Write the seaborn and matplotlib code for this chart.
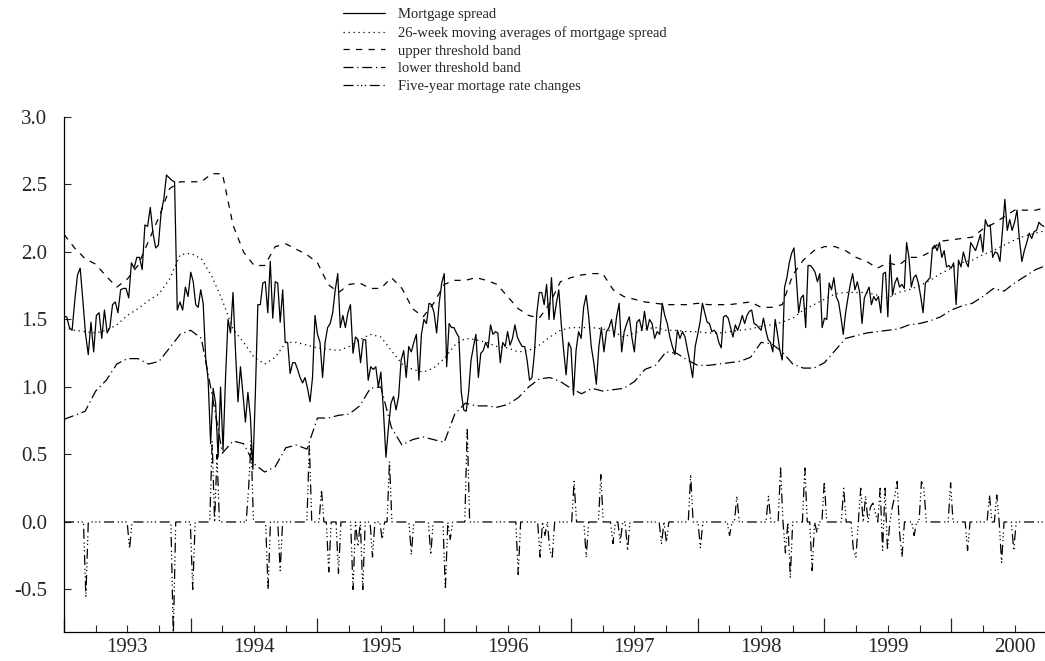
import numpy as np
import pandas as pd
import matplotlib
matplotlib.use("Agg")
import matplotlib.pyplot as plt
from matplotlib.ticker import FixedLocator, FuncFormatter, FormatStrFormatter
import seaborn as sns

# weekly mortgage spread, one list per calendar year
spread_1993 = [1.52, 1.52, 1.44, 1.42, 1.64, 1.83, 1.88, 1.64, 1.39, 1.24, 1.48, 1.26, 1.53, 1.55, 1.36,
               1.57, 1.40, 1.44, 1.61, 1.63, 1.55, 1.72, 1.73, 1.73, 1.66, 1.92, 1.88, 1.96, 1.96, 1.87,
               2.20, 2.19, 2.33, 2.14, 2.03, 2.05, 2.29, 2.39, 2.57, 2.55, 2.53, 2.52, 1.57, 1.63, 1.57,
               1.74, 1.67]
spread_1994 = [1.85, 1.78, 1.61, 1.59, 1.72, 1.62, 1.22, 1.05, 0.58, 0.99, 0.88, 0.48, 1.00, 0.53, 1.07,
               1.50, 1.40, 1.70, 1.27, 0.89, 1.15, 0.95, 0.74, 0.96, 0.78, 0.39, 0.95, 1.61, 1.61, 1.77,
               1.78, 1.55, 1.93, 1.51, 1.78, 1.77, 1.48, 1.72, 1.33, 1.33, 1.10, 1.18, 1.18, 1.13, 1.07,
               1.03, 1.07, 0.99, 0.89, 1.07, 1.53]
spread_1995 = [1.39, 1.33, 1.07, 1.33, 1.44, 1.47, 1.55, 1.72, 1.84, 1.44, 1.53, 1.44, 1.55, 1.61, 1.25,
               1.37, 1.35, 1.18, 1.35, 1.35, 1.05, 1.15, 1.13, 1.15, 1.00, 1.11, 0.83, 0.48, 0.70, 0.88,
               0.93, 0.83, 0.93, 1.20, 1.27, 1.07, 1.30, 1.26, 1.33, 1.39, 1.05, 1.39, 1.50, 1.47, 1.62,
               1.61, 1.55, 1.40, 1.62, 1.77]
spread_1996 = [1.84, 1.15, 1.47, 1.44, 1.44, 1.40, 1.37, 0.96, 0.83, 0.82, 0.96, 1.20, 1.30, 1.39, 1.07,
               1.25, 1.27, 1.33, 1.29, 1.46, 1.39, 1.41, 1.40, 1.18, 1.33, 1.30, 1.41, 1.31, 1.36, 1.46,
               1.37, 1.33, 1.30, 1.30, 1.20, 1.05, 1.07, 1.25, 1.55, 1.70, 1.70, 1.61, 1.76, 1.50, 1.81,
               1.50, 1.62, 1.72, 1.47, 1.27, 1.09, 1.33]
spread_1997 = [1.29, 0.94, 1.27, 1.41, 1.36, 1.59, 1.68, 1.52, 1.30, 1.18, 1.02, 1.30, 1.44, 1.26, 1.41,
               1.44, 1.50, 1.37, 1.52, 1.62, 1.26, 1.41, 1.47, 1.52, 1.37, 1.26, 1.48, 1.50, 1.42, 1.56,
               1.42, 1.50, 1.47, 1.36, 1.41, 1.39, 1.62, 1.53, 1.47, 1.37, 1.30, 1.24, 1.42, 1.36, 1.41,
               1.37, 1.27, 1.18, 1.07, 1.30]
spread_1998 = [1.39, 1.48, 1.62, 1.55, 1.48, 1.47, 1.41, 1.42, 1.40, 1.33, 1.29, 1.52, 1.53, 1.51, 1.44,
               1.37, 1.46, 1.42, 1.47, 1.53, 1.47, 1.53, 1.56, 1.57, 1.47, 1.46, 1.44, 1.42, 1.51, 1.42,
               1.35, 1.33, 1.26, 1.50, 1.39, 1.27, 1.20, 1.74, 1.81, 1.92, 1.99, 2.03, 1.81, 1.55, 1.66,
               1.68, 1.44, 1.90, 1.90, 1.88, 1.85, 1.78, 1.84, 1.44]
spread_1999 = [1.51, 1.50, 1.77, 1.72, 1.81, 1.67, 1.63, 1.52, 1.39, 1.55, 1.66, 1.76, 1.84, 1.72, 1.78,
               1.70, 1.47, 1.66, 1.70, 1.74, 1.61, 1.67, 1.64, 1.67, 1.55, 1.84, 1.85, 1.52, 1.98, 1.68,
               1.77, 1.81, 1.74, 1.76, 1.73, 2.07, 1.96, 1.74, 1.81, 1.83, 1.77, 1.67, 1.55, 1.77, 1.79,
               1.81, 2.03, 2.05, 2.01, 2.07, 1.96, 2.01, 1.89, 1.90]
spread_2000 = [1.88, 1.92, 1.61, 1.94, 1.89, 2.00, 1.93, 1.89, 2.07, 2.04, 2.01, 2.07, 2.13, 2.00, 2.24,
               2.19, 2.20, 1.96, 2.00, 1.99, 1.93, 2.15, 2.39, 2.16, 2.24, 2.16, 2.22, 2.31, 2.09, 1.93,
               2.01, 2.07, 2.14, 2.10, 2.15, 2.16, 2.22, 2.20, 2.19]

# monthly readings from Jan 1993 for the smooth series
ma26 = [1.44, 1.42, 1.41, 1.40, 1.42, 1.46, 1.53, 1.58, 1.64, 1.69, 1.80, 1.98,
        1.99, 1.95, 1.82, 1.64, 1.43, 1.33, 1.22, 1.17, 1.22, 1.33, 1.33, 1.31,
        1.29, 1.28, 1.27, 1.30, 1.35, 1.39, 1.37, 1.27, 1.17, 1.13, 1.11, 1.14,
        1.21, 1.31, 1.36, 1.35, 1.33, 1.30, 1.29, 1.26, 1.27, 1.31, 1.37, 1.42,
        1.44, 1.44, 1.44, 1.43, 1.41, 1.37, 1.40, 1.43, 1.44, 1.42, 1.42, 1.41,
        1.41, 1.40, 1.40, 1.41, 1.42, 1.43, 1.45, 1.46, 1.48, 1.51, 1.57, 1.61,
        1.65, 1.69, 1.70, 1.70, 1.70, 1.68, 1.66, 1.70, 1.72, 1.75, 1.79, 1.84,
        1.88, 1.92, 1.94, 1.98, 2.01, 2.05, 2.09, 2.12, 2.14, 2.16]
upper_band = [2.13, 2.03, 1.95, 1.91, 1.82, 1.74, 1.80, 1.90, 2.08, 2.26, 2.47, 2.52,
              2.52, 2.52, 2.58, 2.58, 2.20, 2.00, 1.90, 1.90, 2.04, 2.06, 2.02, 1.98,
              1.92, 1.76, 1.70, 1.76, 1.77, 1.73, 1.73, 1.81, 1.73, 1.58, 1.52, 1.62,
              1.76, 1.79, 1.79, 1.81, 1.79, 1.76, 1.67, 1.58, 1.53, 1.51, 1.62, 1.78,
              1.81, 1.83, 1.84, 1.84, 1.72, 1.67, 1.65, 1.63, 1.62, 1.61, 1.61, 1.61,
              1.62, 1.61, 1.61, 1.61, 1.62, 1.63, 1.59, 1.59, 1.61, 1.83, 1.94, 2.01,
              2.04, 2.04, 2.01, 1.96, 1.93, 1.88, 1.92, 1.90, 1.96, 1.96, 2.00, 2.08,
              2.09, 2.10, 2.11, 2.17, 2.21, 2.26, 2.31, 2.31, 2.31, 2.33]
lower_band = [0.76, 0.79, 0.82, 0.97, 1.05, 1.17, 1.21, 1.21, 1.17, 1.19, 1.29, 1.39,
              1.42, 1.36, 0.95, 0.51, 0.60, 0.58, 0.43, 0.37, 0.41, 0.55, 0.57, 0.54,
              0.77, 0.77, 0.79, 0.80, 0.86, 0.99, 1.00, 0.70, 0.57, 0.61, 0.63, 0.61,
              0.59, 0.80, 0.88, 0.86, 0.86, 0.85, 0.87, 0.92, 1.00, 1.06, 1.07, 1.04,
              0.99, 0.95, 0.99, 0.97, 0.98, 0.99, 1.04, 1.13, 1.16, 1.26, 1.25, 1.20,
              1.16, 1.16, 1.17, 1.18, 1.19, 1.22, 1.33, 1.32, 1.26, 1.17, 1.14, 1.14,
              1.18, 1.27, 1.36, 1.38, 1.40, 1.41, 1.42, 1.43, 1.46, 1.47, 1.49, 1.52,
              1.57, 1.60, 1.62, 1.67, 1.73, 1.71, 1.77, 1.82, 1.87, 1.90]

# five-year mortgage rate changes: zero except in these weeks (counted from 1 Jan 1993)
chg_week = [9, 27, 45, 53, 61, 63, 76, 77, 84, 89, 101, 106, 109, 113, 119, 121, 123, 127, 131, 134,
            143, 151, 157, 159, 166, 187, 196, 198, 200, 201, 210, 215, 221, 226, 229, 232, 246, 248,
            258, 262, 274, 277, 290, 295, 297, 299, 305, 308, 310, 313, 321, 325, 326, 328, 330, 332,
            333, 334, 336, 337, 338, 339, 341, 342, 343, 344, 345, 350, 353, 354, 365, 372, 381, 384,
            386, 391]
chg_value = [-0.55, -0.20, -0.85, -0.50, 0.60, 0.50, 0.25, 0.60, -0.50, -0.36, 0.58, 0.24, -0.37, -0.38,
             -0.50, -0.18, -0.50, -0.26, -0.13, 0.45, -0.24, -0.24, -0.50, -0.13, 0.70, -0.39, -0.26,
             -0.10, -0.21, -0.26, 0.30, -0.26, 0.35, -0.16, -0.15, -0.21, -0.16, -0.15, 0.35, -0.19,
             -0.10, 0.19, 0.19, 0.40, -0.23, -0.41, 0.40, -0.36, -0.08, 0.30, 0.25, -0.21, -0.26, 0.25,
             0.19, 0.11, 0.14, 0.07, 0.25, -0.21, 0.25, -0.21, 0.11, 0.19, 0.30, -0.08, -0.26, -0.10,
             0.30, 0.25, 0.29, -0.21, 0.20, 0.20, -0.30, -0.21]
n_weeks = 404

labels = ["Mortgage spread",
          "26-week moving averages of mortgage spread",
          "upper threshold band",
          "lower threshold band",
          "Five-year mortage rate changes"]

# time axis in fractional years
spread_years = [1993, 1994, 1995, 1996, 1997, 1998, 1999, 2000]
spread_lists = [spread_1993, spread_1994, spread_1995, spread_1996,
                spread_1997, spread_1998, spread_1999, spread_2000]
t_spread, v_spread = [], []
for yr, vals in zip(spread_years, spread_lists):
    step = 1.0 / len(vals) if yr < 2000 else 1.0 / 52
    t_spread += list(yr + np.arange(len(vals)) * step)
    v_spread += vals
df_spread = pd.DataFrame({"t": t_spread, "v": v_spread})

t_month = 1993 + np.arange(len(ma26)) / 12.0
df_ma = pd.DataFrame({"t": t_month, "v": ma26})
df_up = pd.DataFrame({"t": t_month, "v": upper_band})
df_lo = pd.DataFrame({"t": t_month, "v": lower_band})

chg = np.zeros(n_weeks)
chg[chg_week] = chg_value
df_chg = pd.DataFrame({"t": 1993 + np.arange(n_weeks) * 7 / 365.25, "v": chg})

sns.set_style("ticks")
plt.rcParams["font.family"] = ["Liberation Serif", "DejaVu Serif"]
plt.rcParams["axes.unicode_minus"] = False

fig = plt.figure(figsize=(10.45, 6.61), dpi=100)
ax = fig.add_axes([64 / 1045, 1 - 632 / 661, 1 - 64 / 1045, (632 - 117) / 661])

lw = 0.9
styles = ["-", (0, (1, 3)), (0, (5, 5)), (0, (8, 3, 1, 3)), (0, (8, 3, 1, 2, 1, 2, 1, 3))]
for df, lab, ls in zip([df_spread, df_ma, df_up, df_lo, df_chg], labels, styles):
    sns.lineplot(data=df, x="t", y="v", ax=ax, color="black", linewidth=lw,
                 linestyle=ls, estimator=None, sort=False, label=lab)

ax.set_xlim(1993.0, 2000.74)
ax.set_ylim(-0.815, 3.0)
ax.set_xlabel("")
ax.set_ylabel("")

ax.set_yticks(np.arange(-0.5, 3.01, 0.5))
ax.yaxis.set_major_formatter(FormatStrFormatter("%.1f"))
ax.tick_params(axis="y", direction="in", length=5, width=0.8, labelsize=15, pad=12)

ax.set_xticks(range(1993, 2001))
ax.set_xticklabels([""] * 8)
quarters = [y + q for y in range(1993, 2001) for q in (0.25, 0.5, 0.75) if y + q < 2000.74]
ax.xaxis.set_minor_locator(FixedLocator(quarters))
ax.xaxis.set_minor_formatter(FuncFormatter(
    lambda v, p: str(int(v)) if abs(v % 1 - 0.5) < 1e-6 else ""))
ax.tick_params(axis="x", which="major", direction="in", length=10, width=0.9)
ax.tick_params(axis="x", which="minor", direction="in", length=5, width=0.8,
               labelsize=15, pad=4)

for side in ["top", "right"]:
    ax.spines[side].set_visible(False)
for side in ["left", "bottom"]:
    ax.spines[side].set_linewidth(0.9)
    ax.spines[side].set_color("black")

handles, labs = ax.get_legend_handles_labels()
ax.get_legend().remove()
fig.legend(handles, labs, loc="upper left", bbox_to_anchor=(343 / 1045, 1 - 8 / 661),
           frameon=False, fontsize=10.5, handlelength=2.9, handletextpad=0.9,
           labelspacing=0.32, borderaxespad=0, borderpad=0)

fig.savefig("out.png", dpi=100)
